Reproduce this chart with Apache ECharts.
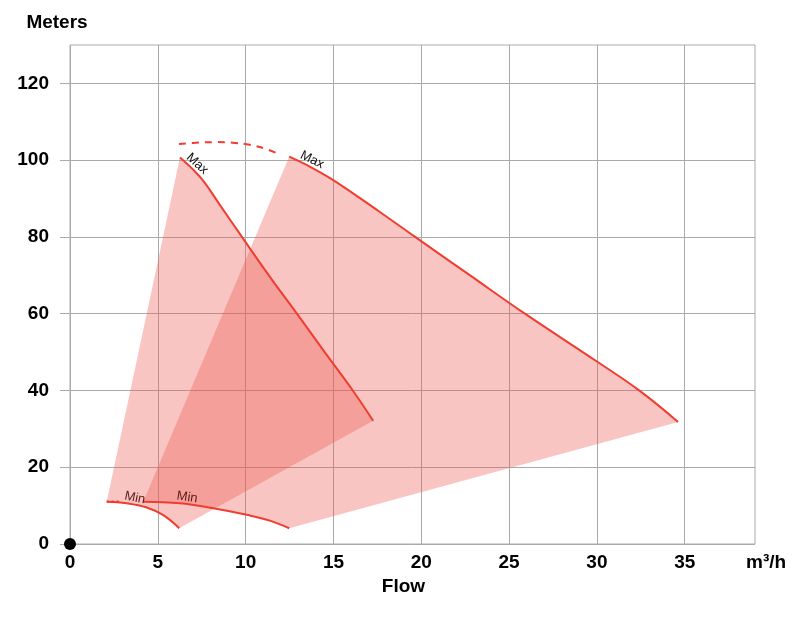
<!DOCTYPE html>
<html><head><meta charset="utf-8">
<script src="https://cdn.jsdelivr.net/npm/echarts@6/dist/echarts.min.js"></script>
<style>html,body{margin:0;padding:0;background:#fff}#c{width:800px;height:625px}</style>
</head><body><div id="c"></div>
<script>
// ---- data (flow m3/h, head m) ----
const xTickValues = [0, 5, 10, 15, 20, 25, 30, 35];
const yTickValues = [0, 20, 40, 60, 80, 100, 120];
const max1 = [[6.26,100.7],[7.0,97.6],[7.59,94.6],[8.54,88.3],[9.79,80.0],[11.35,69.8],[12.92,60.0],[14.5,50.0],[16.1,40.0],[17.26,32.1]];
const min1 = [[2.09,11.0],[3.22,10.6],[4.37,9.5],[5.31,7.5],[6.22,4.1]];
const max2 = [[12.48,100.9],[13.7,98.2],[14.99,94.8],[17.64,86.5],[19.65,80.0],[22.8,69.9],[25.9,60.0],[29.98,47.6],[32.44,39.9],[34.62,31.8]];
const min2 = [[4.17,11.0],[6.26,10.6],[8.16,9.3],[10.06,7.6],[11.38,6.1],[12.48,4.1]];
const maxEnvelope = [[6.2,104.2],[7.4,104.6],[8.37,104.7],[9.39,104.5],[10.24,104.0],[11.1,103.0],[12.0,101.4]];
const minEnvelope = [[2.09,11.1],[2.8,11.1]];
const origin = [[0, 0]];

// ---- styles ----
const RED = '#ef3d31';
const FILL = 'rgba(238,89,81,0.35)';
const FONT = '"Liberation Sans", Arial, Helvetica, sans-serif';
const GRIDC = '#aaaaaa';

const poly1 = max1.concat(min1.slice().reverse());
const poly2 = max2.concat(min2.slice().reverse());

function polySeries(pts) {
  return {
    type: 'custom', data: pts, z: 1, silent: true,
    renderItem(params, api) {
      if (params.dataIndex !== 0) return null;
      return { type: 'polygon', shape: { points: pts.map(p => api.coord(p)) }, style: { fill: FILL } };
    }
  };
}
function curve(data, dash) {
  return {
    type: 'line', data, smooth: 0.4, symbol: 'none', z: 3, silent: true,
    lineStyle: { color: RED, width: 2, type: dash || 'solid' }
  };
}

const labelDefs = [
  { text: 'Max', curve: max1, s: 17, color: '#111111' },
  { text: 'Max', curve: max2, s: 22, color: '#111111' },
  { text: 'Min', curve: min1, s: 27, color: '#5e1a15' },
  { text: 'Min', curve: min2, s: 43, color: '#5e1a15' }
];
const labelSeries = {
  type: 'custom', z: 4, silent: true,
  data: labelDefs.map(d => d.curve[0]),
  renderItem(params, api) {
    const def = labelDefs[params.dataIndex];
    const pts = def.curve.map(p => api.coord(p));
    let remain = def.s, px = pts[0][0], py = pts[0][1], th = 0;
    for (let i = 0; i < pts.length - 1; i++) {
      const dx = pts[i+1][0] - pts[i][0], dy = pts[i+1][1] - pts[i][1];
      const len = Math.hypot(dx, dy);
      th = Math.atan2(dy, dx);
      if (remain <= len || i === pts.length - 2) {
        px = pts[i][0] + dx * remain / len; py = pts[i][1] + dy * remain / len;
        break;
      }
      remain -= len;
    }
    const off = 7;
    return {
      type: 'text', x: px + Math.sin(th) * off, y: py - Math.cos(th) * off, rotation: -th,
      style: { text: def.text, fill: def.color, font: '13px ' + FONT, align: 'center', verticalAlign: 'middle' }
    };
  }
};

const chart = echarts.init(document.getElementById('c'), null, { renderer: 'canvas' });
chart.setOption({
  animation: false,
  backgroundColor: '#ffffff',
  grid: { left: 70, right: 45, top: 45, bottom: 81, show: true, borderColor: GRIDC, borderWidth: 1, containLabel: false, outerBoundsMode: 'none' },
  xAxis: {
    type: 'value', min: 0, max: 39,
    name: 'Flow', nameLocation: 'middle', nameGap: 30,
    nameTextStyle: { fontFamily: FONT, fontWeight: 'bold', fontSize: 19, color: '#000', padding: [0, 18, 0, 0] },
    axisLine: { show: false },
    axisTick: { show: false, customValues: xTickValues },
    axisLabel: { customValues: xTickValues, margin: 9, fontFamily: FONT, fontWeight: 'bold', fontSize: 19, color: '#000' },
    splitLine: { show: true, lineStyle: { color: GRIDC, width: 1 } }
  },
  yAxis: {
    type: 'value', min: 0, max: 130,
    name: 'Meters', nameLocation: 'end', nameGap: 13,
    nameTextStyle: { fontFamily: FONT, fontWeight: 'bold', fontSize: 19, color: '#000', align: 'center', padding: [0, 26, 0, 0] },
    axisLine: { show: false },
    axisTick: { show: true, length: 10, customValues: yTickValues, lineStyle: { color: GRIDC } },
    axisLabel: { customValues: yTickValues, margin: 21, fontFamily: FONT, fontWeight: 'bold', fontSize: 19, color: '#000' },
    splitLine: { show: true, lineStyle: { color: GRIDC, width: 1 } }
  },
  graphic: [{
    type: 'text', left: 746, top: 553,
    style: { text: 'm³/h', font: 'bold 19px ' + FONT, fill: '#000' }
  }],
  series: [
    polySeries(poly1),
    polySeries(poly2),
    curve(max1), curve(min1), curve(max2), curve(min2),
    curve(maxEnvelope, [7, 6]),
    curve(minEnvelope, [2, 3]),
    labelSeries,
    { type: 'scatter', data: origin, symbolSize: 12, clip: false, z: 5, silent: true, itemStyle: { color: '#000', opacity: 1 } }
  ]
});
</script></body></html>
